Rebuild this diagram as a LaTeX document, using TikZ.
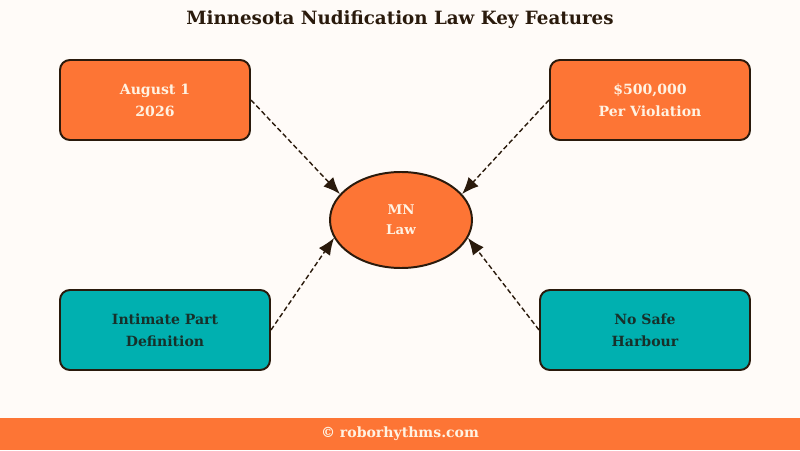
\documentclass[tikz,border=0pt]{standalone}
\usepackage{fontspec}
\setmainfont{DejaVu Serif}
\usepackage[HTML]{xcolor}
\usetikzlibrary{positioning, arrows, arrows.meta, shapes.geometric, backgrounds}

\definecolor{mnorange}{HTML}{FD7535}
\definecolor{mnteal}{HTML}{00B0B0}
\definecolor{mndark}{HTML}{2A1A0C}
\definecolor{mncream}{HTML}{FFF2E2}
\definecolor{mnbg}{HTML}{FFFBF8}
\definecolor{mngreen}{HTML}{17302A}

\tikzset{
  keybox/.style={rectangle, rounded corners=7pt, draw=mndark, line width=1.4pt,
    minimum height=2cm, align=center, font=\bfseries\fontsize{10}{15.5}\selectfont},
  hot/.style={keybox, fill=mnorange, text=mncream},
  cool/.style={keybox, fill=mnteal, text=mngreen},
  frame/.style={draw=mndark, line width=1.4pt, fill=mncream!70!mnorange},
  feed/.style={-{Latex[length=4.2mm,width=3.4mm]}, dashed, dash pattern=on 3.5pt off 2pt,
    line width=1pt, draw=mndark}
}

\begin{document}
\begin{tikzpicture}
\useasboundingbox (0,0) rectangle (20,11.25);
\fill[mnbg] (0,0) rectangle (20,11.25);
\fill[mnorange] (0,0) rectangle (20,0.8);

\node[font=\bfseries\fontsize{13}{15}\selectfont, text=mndark] (title) at (10,10.75) {Minnesota Nudification Law Key Features};
\node[font=\bfseries\fontsize{10}{12}\selectfont, text=mncream] (site) at (10,0.4) {\textcopyright{} roborhythms.com};

\node[hot, minimum width=4.75cm] (date) at (3.875,8.75) {August 1\\2026};
\node[hot, minimum width=5cm] (fine) at (16.25,8.75) {\$500,000\\Per Violation};
\node[cool, minimum width=5.25cm] (part) at (4.125,3) {Intimate Part\\Definition};
\node[cool, minimum width=5.25cm] (harb) at (16.125,3) {No Safe\\Harbour};
\node[ellipse, fill=mnorange, draw=mndark, line width=1.4pt, minimum width=3.55cm, minimum height=2.4cm,
  text=mncream, align=center, font=\bfseries\fontsize{9.5}{14}\selectfont] (law) at (10.025,5.75) {MN\\Law};

% square frames behind the cards
\begin{scope}[on background layer]
\foreach \n in {date,fine,part,harb}
  \draw[frame] (\n.south west) rectangle (\n.north east);
\end{scope}

\draw[feed] (date.east) -- (law.157);
\draw[feed] (fine.west) -- (law.23);
\draw[feed] (part.east) -- (law.195);
\draw[feed] (harb.west) -- (law.345);
\end{tikzpicture}
\end{document}
